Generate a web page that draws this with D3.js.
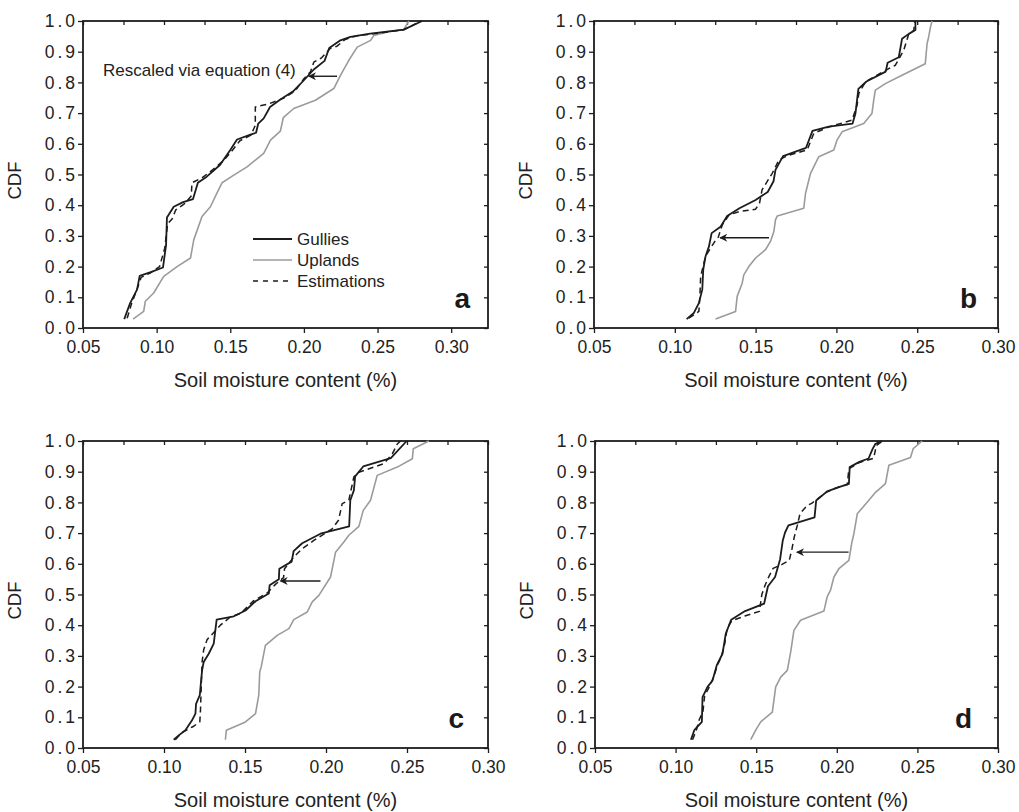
<!DOCTYPE html>
<html>
<head>
<meta charset="utf-8">
<script src="https://cdn.jsdelivr.net/npm/d3@7"></script>
<style>
  body { margin: 0; background: #fff; }
  svg { display: block; font-family: "Liberation Sans", Arial, sans-serif; }
</style>
</head>
<body>
<svg width="1019" height="812"></svg>
<script>
// ---- data ----
const xTicks = [0.05, 0.10, 0.15, 0.20, 0.25, 0.30];
const yTicks = [0.0, 0.1, 0.2, 0.3, 0.4, 0.5, 0.6, 0.7, 0.8, 0.9, 1.0];
const panelLetters = ['a', 'b', 'c', 'd'];
const legendLabels = ['Gullies', 'Uplands', 'Estimations'];
const noteText = 'Rescaled via equation (4)';

const gulliesA = [[0.078,0.029],[0.082,0.081],[0.0867,0.125],[0.0885,0.170],[0.096,0.182],[0.1043,0.197],[0.1064,0.27],[0.107,0.36],[0.1116,0.395],[0.118,0.41],[0.1247,0.42],[0.128,0.473],[0.134,0.493],[0.143,0.531],[0.150,0.58],[0.1546,0.614],[0.1637,0.630],[0.1675,0.636],[0.169,0.666],[0.1727,0.683],[0.177,0.72],[0.184,0.744],[0.193,0.772],[0.200,0.807],[0.2067,0.842],[0.2140,0.870],[0.2172,0.912],[0.2248,0.937],[0.2316,0.948],[0.245,0.959],[0.2678,0.972],[0.2803,1.0]];
const uplandsA = [[0.084,0.029],[0.0912,0.054],[0.0923,0.087],[0.098,0.114],[0.1048,0.168],[0.1139,0.20],[0.123,0.228],[0.1252,0.287],[0.1308,0.363],[0.1365,0.395],[0.142,0.45],[0.1444,0.473],[0.1524,0.498],[0.1614,0.525],[0.1727,0.569],[0.1773,0.612],[0.184,0.641],[0.186,0.685],[0.1931,0.715],[0.2078,0.742],[0.2203,0.78],[0.2248,0.823],[0.2305,0.872],[0.2362,0.915],[0.2453,0.937],[0.2475,0.953],[0.2565,0.964],[0.2678,0.972],[0.2712,1.0]];
const estA = [[0.080,0.032],[0.083,0.08],[0.087,0.13],[0.0895,0.165],[0.096,0.18],[0.102,0.20],[0.1055,0.26],[0.1075,0.34],[0.1105,0.355],[0.113,0.385],[0.119,0.405],[0.1235,0.43],[0.124,0.473],[0.131,0.49],[0.138,0.515],[0.146,0.548],[0.152,0.582],[0.1565,0.61],[0.164,0.628],[0.167,0.66],[0.167,0.72],[0.176,0.73],[0.186,0.748],[0.194,0.772],[0.200,0.812],[0.2045,0.835],[0.2067,0.866],[0.212,0.88],[0.218,0.911],[0.2225,0.918],[0.228,0.94],[0.236,0.952],[0.252,0.961],[0.268,0.972],[0.2795,1.0]];

const gulliesB = [[0.1073,0.029],[0.1118,0.049],[0.1149,0.081],[0.117,0.125],[0.1176,0.19],[0.119,0.233],[0.1211,0.265],[0.1228,0.309],[0.1283,0.33],[0.1324,0.365],[0.1400,0.39],[0.150,0.417],[0.1575,0.443],[0.1611,0.478],[0.1623,0.515],[0.1670,0.560],[0.1812,0.587],[0.1852,0.642],[0.1953,0.656],[0.2100,0.666],[0.2118,0.699],[0.2136,0.779],[0.2186,0.803],[0.2305,0.835],[0.2317,0.864],[0.2386,0.882],[0.2406,0.942],[0.2448,0.958],[0.2489,0.971],[0.2489,1.0]];
const uplandsB = [[0.1252,0.029],[0.1376,0.054],[0.1386,0.103],[0.1417,0.146],[0.1427,0.173],[0.1458,0.20],[0.150,0.228],[0.1561,0.255],[0.1592,0.282],[0.1613,0.314],[0.1623,0.352],[0.1634,0.365],[0.1798,0.39],[0.1809,0.439],[0.184,0.504],[0.1891,0.558],[0.1984,0.58],[0.2004,0.612],[0.2035,0.639],[0.2169,0.666],[0.222,0.699],[0.2231,0.742],[0.2241,0.775],[0.2303,0.796],[0.2406,0.823],[0.255,0.861],[0.2561,0.926],[0.2571,0.948],[0.2582,0.98],[0.2592,1.0]];
const estB = [[0.1087,0.032],[0.1149,0.054],[0.1155,0.10],[0.116,0.168],[0.119,0.233],[0.1221,0.26],[0.1245,0.28],[0.1269,0.296],[0.1294,0.336],[0.1335,0.368],[0.1397,0.379],[0.150,0.387],[0.1524,0.406],[0.154,0.45],[0.1603,0.504],[0.1644,0.547],[0.1700,0.562],[0.1819,0.580],[0.1860,0.634],[0.1953,0.655],[0.2097,0.677],[0.2128,0.726],[0.2139,0.764],[0.2180,0.802],[0.2324,0.845],[0.2365,0.856],[0.2417,0.905],[0.2448,0.958],[0.2479,0.969],[0.2485,1.0]];

const gulliesC = [[0.106,0.027],[0.1091,0.041],[0.1132,0.058],[0.1173,0.09],[0.1194,0.112],[0.1198,0.144],[0.1221,0.172],[0.1235,0.253],[0.1245,0.28],[0.1276,0.307],[0.1307,0.34],[0.1325,0.418],[0.1431,0.429],[0.1503,0.448],[0.1565,0.478],[0.1647,0.503],[0.1652,0.53],[0.1709,0.55],[0.1712,0.584],[0.1788,0.607],[0.180,0.641],[0.1853,0.667],[0.1966,0.698],[0.2143,0.722],[0.2150,0.807],[0.2172,0.839],[0.2180,0.885],[0.223,0.917],[0.2400,0.944],[0.2498,1.0]];
const uplandsC = [[0.1379,0.027],[0.1385,0.058],[0.1503,0.085],[0.1565,0.112],[0.1585,0.172],[0.1591,0.248],[0.160,0.264],[0.1626,0.334],[0.1699,0.367],[0.1771,0.389],[0.1801,0.418],[0.1884,0.443],[0.1915,0.476],[0.1956,0.497],[0.2028,0.557],[0.2049,0.611],[0.2059,0.638],[0.211,0.671],[0.2141,0.693],[0.2203,0.722],[0.223,0.774],[0.2275,0.807],[0.2316,0.888],[0.244,0.915],[0.2533,0.942],[0.2539,0.975],[0.2635,1.0]];
const estC = [[0.107,0.027],[0.111,0.05],[0.118,0.07],[0.1221,0.085],[0.1225,0.12],[0.123,0.2],[0.1235,0.28],[0.1245,0.32],[0.1266,0.353],[0.1300,0.372],[0.1348,0.40],[0.141,0.427],[0.1472,0.438],[0.1554,0.48],[0.1637,0.505],[0.1688,0.533],[0.1738,0.555],[0.1744,0.584],[0.1801,0.622],[0.1853,0.649],[0.1925,0.676],[0.2038,0.714],[0.2077,0.742],[0.210,0.796],[0.2141,0.807],[0.2172,0.883],[0.2203,0.898],[0.2296,0.915],[0.2357,0.926],[0.2409,0.958],[0.244,0.99],[0.246,1.0]];

const gulliesD = [[0.1095,0.027],[0.1116,0.058],[0.1163,0.085],[0.1167,0.166],[0.1198,0.199],[0.1229,0.22],[0.1255,0.269],[0.1291,0.307],[0.1311,0.372],[0.1345,0.418],[0.1431,0.446],[0.1549,0.47],[0.1573,0.527],[0.1617,0.557],[0.1648,0.614],[0.1665,0.676],[0.1679,0.702],[0.170,0.725],[0.1862,0.751],[0.1872,0.806],[0.1940,0.836],[0.2013,0.850],[0.2075,0.86],[0.2080,0.915],[0.2140,0.932],[0.2197,0.943],[0.2223,0.975],[0.2240,0.991],[0.2280,1.0]];
const uplandsD = [[0.1466,0.027],[0.1497,0.058],[0.1528,0.085],[0.160,0.117],[0.1621,0.199],[0.1652,0.231],[0.1693,0.253],[0.1714,0.313],[0.1734,0.383],[0.1775,0.416],[0.192,0.446],[0.194,0.492],[0.1961,0.514],[0.1982,0.557],[0.2013,0.584],[0.2075,0.611],[0.2092,0.666],[0.2106,0.698],[0.2127,0.763],[0.2199,0.807],[0.224,0.833],[0.2302,0.861],[0.2323,0.921],[0.2457,0.946],[0.2474,0.975],[0.2529,1.0]];
const estD = [[0.1105,0.027],[0.113,0.06],[0.1145,0.09],[0.117,0.12],[0.118,0.17],[0.121,0.2],[0.1235,0.23],[0.126,0.27],[0.1285,0.30],[0.1305,0.34],[0.132,0.39],[0.135,0.415],[0.143,0.43],[0.152,0.445],[0.1535,0.5],[0.1555,0.53],[0.158,0.56],[0.1605,0.585],[0.166,0.598],[0.1705,0.611],[0.1722,0.649],[0.1736,0.687],[0.1755,0.725],[0.1772,0.764],[0.1816,0.79],[0.1844,0.797],[0.1935,0.833],[0.200,0.848],[0.2065,0.858],[0.2075,0.91],[0.2140,0.93],[0.2229,0.944],[0.2245,0.985],[0.2285,1.0]];

// arrows: [from, to] in data units
const arrowsA = [[0.2225, 0.82], [0.2033, 0.82]];
const arrowsB = [[0.1583, 0.294], [0.128, 0.294]];
const arrowsC = [[0.1966, 0.544], [0.1719, 0.544]];
const arrowsD = [[0.2073, 0.638], [0.1752, 0.638]];

// ---- layout ----
const panels = [
  { left: 83, right: 488, top: 21, bottom: 328, xMax: 0.325, letterDx: -18, g: gulliesA, u: uplandsA, e: estA, arrow: arrowsA },
  { left: 594, right: 998, top: 21, bottom: 328, xMax: 0.30, letterDx: -21, g: gulliesB, u: uplandsB, e: estB, arrow: arrowsB },
  { left: 83, right: 488, top: 441, bottom: 748, xMax: 0.30, letterDx: -24, g: gulliesC, u: uplandsC, e: estC, arrow: arrowsC },
  { left: 595, right: 998, top: 441, bottom: 748, xMax: 0.30, letterDx: -26, g: gulliesD, u: uplandsD, e: estD, arrow: arrowsD }
];

const ink = '#1c1c1c';
const greyInk = '#9b9b9b';
const styles = {
  u: { stroke: greyInk, width: 1.6, dash: null },
  g: { stroke: ink, width: 1.8, dash: null },
  e: { stroke: ink, width: 1.5, dash: '6,4' }
};

const svg = d3.select('svg');

svg.append('defs').append('marker')
    .attr('id', 'head')
    .attr('viewBox', '0 0 10 10')
    .attr('refX', 9)
    .attr('refY', 5)
    .attr('markerUnits', 'userSpaceOnUse')
    .attr('markerWidth', 10)
    .attr('markerHeight', 8)
    .attr('orient', 'auto')
  .append('path')
    .attr('d', 'M0,0 L10,5 L0,10 L3,5 Z')
    .attr('fill', ink);

panels.forEach((p, i) => {
  const xScale = d3.scaleLinear().domain([0.05, p.xMax]).range([p.left, p.right]);
  const yScale = d3.scaleLinear().domain([0, 1]).range([p.bottom, p.top]);
  const topScale = d3.scaleLinear().domain([0, 10]).range([p.left, p.right]);

  const g = svg.append('g');

  // axes
  const yAxisG = g.append('g')
      .attr('transform', `translate(${p.left},0)`)
      .call(d3.axisLeft(yScale).tickValues(yTicks).tickSize(5).tickPadding(0).tickFormat(d3.format('.1f')));
  const xAxisG = g.append('g')
      .attr('transform', `translate(0,${p.bottom})`)
      .call(d3.axisBottom(xScale).tickValues(xTicks).tickSize(5).tickPadding(8).tickFormat(d3.format('.2f')));
  const rightG = g.append('g')
      .attr('transform', `translate(${p.right},0)`)
      .call(d3.axisLeft(yScale).tickValues(yTicks).tickSize(4).tickFormat(''));
  const topG = g.append('g')
      .attr('transform', `translate(0,${p.top})`)
      .call(d3.axisBottom(topScale).ticks(10).tickSize(4).tickFormat(''));

  [yAxisG, xAxisG, rightG, topG].forEach(a => {
    a.select('.domain').remove();
    a.selectAll('line').attr('stroke', ink).attr('stroke-width', 1.3);
    a.selectAll('text')
        .attr('fill', '#222')
        .style('font-size', '17.5px')
        .style('font-family', '"Liberation Sans", Arial, sans-serif');
  });
  // the y labels in the figure are set wider than the x labels
  yAxisG.selectAll('text').style('letter-spacing', '3px');

  g.append('rect')
      .attr('x', p.left)
      .attr('y', p.top)
      .attr('width', p.right - p.left)
      .attr('height', p.bottom - p.top)
      .attr('fill', 'none')
      .attr('stroke', ink)
      .attr('stroke-width', 1.8);

  // axis titles
  g.append('text')
      .attr('transform', `translate(${p.left - 62},${(p.top + p.bottom) / 2 + 6}) rotate(-90)`)
      .attr('text-anchor', 'middle')
      .attr('fill', '#222')
      .style('font-size', '18.5px')
      .text('CDF');
  g.append('text')
      .attr('x', (p.left + p.right) / 2)
      .attr('y', p.bottom + 58.5)
      .attr('text-anchor', 'middle')
      .attr('fill', '#222')
      .style('font-size', '20px')
      .text('Soil moisture content (%)');

  // curves
  const line = d3.line().x(d => xScale(d[0])).y(d => yScale(d[1]));
  ['u', 'g', 'e'].forEach(k => {
    g.append('path')
        .datum(p[k])
        .attr('d', line)
        .attr('fill', 'none')
        .attr('stroke', styles[k].stroke)
        .attr('stroke-width', styles[k].width)
        .attr('stroke-dasharray', styles[k].dash)
        .attr('stroke-linejoin', 'round');
  });

  // arrow
  g.append('line')
      .attr('x1', xScale(p.arrow[0][0]))
      .attr('y1', yScale(p.arrow[0][1]))
      .attr('x2', xScale(p.arrow[1][0]))
      .attr('y2', yScale(p.arrow[1][1]))
      .attr('stroke', ink)
      .attr('stroke-width', 1.4)
      .attr('marker-end', 'url(#head)');

  // panel letter
  g.append('text')
      .attr('x', p.right + p.letterDx)
      .attr('y', p.bottom - 20)
      .attr('text-anchor', 'end')
      .attr('fill', '#1a1a1a')
      .style('font-size', '28px')
      .style('font-weight', 'bold')
      .text(panelLetters[i]);

  if (i === 0) {
    g.append('text')
        .attr('x', 103)
        .attr('y', 76)
        .attr('fill', '#222')
        .style('font-size', '17px')
        .text(noteText);

    const legend = g.append('g').attr('transform', 'translate(253,239)');
    legendLabels.forEach((lab, j) => {
      const k = ['g', 'u', 'e'][j];
      legend.append('line')
          .attr('x1', 0).attr('x2', 39)
          .attr('y1', j * 21).attr('y2', j * 21)
          .attr('stroke', styles[k].stroke)
          .attr('stroke-width', styles[k].width)
          .attr('stroke-dasharray', k === 'e' ? '5,5' : null);
      legend.append('text')
          .attr('x', 44)
          .attr('y', j * 21)
          .attr('dy', '0.35em')
          .attr('fill', '#222')
          .style('font-size', '17px')
          .text(lab);
    });
  }
});
</script>
</body>
</html>
